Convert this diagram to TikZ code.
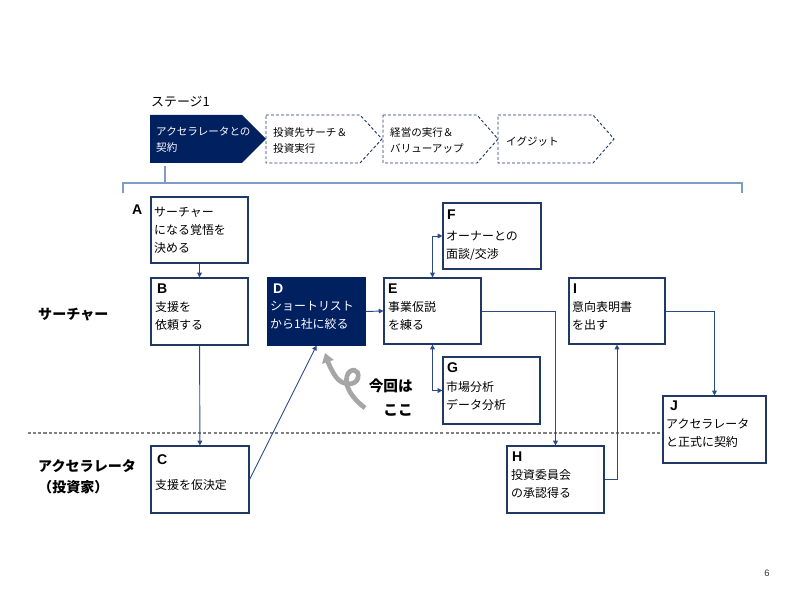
\documentclass[tikz,border=0pt]{standalone}
\usepackage{fontspec}
\setmainfont{Noto Sans CJK JP}
\newfontfamily\latf{Liberation Sans}
\usetikzlibrary{arrows.meta,fit}
\definecolor{navy}{HTML}{002060}
\definecolor{bord}{HTML}{1F3864}
\definecolor{conncol}{HTML}{2A4A85}
\definecolor{brk}{HTML}{7F9CC6}
\definecolor{arrowgray}{HTML}{A6A6A6}
\definecolor{lanegray}{HTML}{808080}
\begin{document}
\begin{tikzpicture}[x=0.03cm,y=-0.03cm,
  box/.style={draw=bord, line width=1pt, fill=white, rectangle, inner sep=0pt},
  darkbox/.style={draw=navy, line width=1pt, fill=navy, rectangle, inner sep=0pt},
  txt/.style={anchor=north west, inner sep=0pt, align=left, font=\fontsize{10.2}{15.3}\selectfont},
  stxt/.style={anchor=north west, inner sep=0pt, align=left, font=\fontsize{9}{13.6}\selectfont},
  letter/.style={anchor=west, inner sep=0pt, font=\latf\bfseries\fontsize{12}{12}\selectfont},
  lane/.style={anchor=north west, inner sep=0pt, align=left, font=\bfseries\fontsize{12}{18}\selectfont},
  conn/.style={draw=conncol, line width=0.8pt},
  arr/.style={-{Triangle[length=4pt,width=4pt]}},
  darr/.style={{Triangle[length=4pt,width=4pt]}-{Triangle[length=4pt,width=4pt]}},
  chev/.style={draw=bord, line width=0.8pt, dash pattern=on 2.5pt off 1.8pt, fill=white},
]
\useasboundingbox (0,0) rectangle (800,600);

% stage header
\node[anchor=west, inner sep=0pt, font=\fontsize{11}{11}\selectfont] (stage) at (151,102) {ステージ1};
\fill[navy] (150,115) -- (242,115) -- (266,139) -- (242,163) -- (150,163) -- cycle;
\path[chev] (266,115) -- (360,115) -- (382,139) -- (360,163) -- (266,163) -- cycle;
\path[chev] (383,115) -- (477,115) -- (498,139) -- (477,163) -- (383,163) -- cycle;
\path[chev] (498,115) -- (593,115) -- (614,139) -- (593,163) -- (498,163) -- cycle;
\node[stxt, text=white] (s1) at (156,127) {アクセラレータとの\\契約};
\node[stxt] (s2) at (273,127) {投資先サーチ＆\\投資実行};
\node[stxt] (s3) at (390,127) {経営の実行＆\\バリューアップ};
\node[stxt, anchor=west] (s4) at (506,141) {イグジット};

% bracket
\coordinate (tickTop) at (165,166);
\coordinate (tickBot) at (165,183);
\coordinate (bL) at (123,193);
\coordinate (bR) at (742,193);
\draw[brk, line width=1.3pt] (bL) -- (123,183) -- (742,183) -- (bR);
\draw[brk, line width=1.3pt] (tickTop) -- (tickBot);

% lane separator
\coordinate (laneL) at (28,433);
\coordinate (laneR) at (663,433);
\draw[lanegray, line width=0.9pt, dash pattern=on 2.6pt off 1.8pt] (laneL) -- (laneR);

% lane labels
\node[lane] (lane1) at (38,308) {サーチャー};
\node[lane] (lane2) at (38,459) {アクセラレータ\\（投資家）};

% boxes
\node[box, fit={(151,197) (248,263)}] (A) {};
\node[box, fit={(151,278) (248,345)}] (B) {};
\node[box, fit={(151,446) (249,513)}] (C) {};
\node[darkbox, fit={(268,278) (365,345)}] (D) {};
\node[box, fit={(384,278) (481,344)}] (E) {};
\node[box, fit={(443,203) (541,269)}] (F) {};
\node[box, fit={(443,357) (540,424)}] (G) {};
\node[box, fit={(507,446) (604,513)}] (H) {};
\node[box, fit={(569,278) (665,344)}] (I) {};
\node[box, fit={(663,396) (766,463)}] (J) {};

% letters
\node[letter] (lA) at (132,210) {A};
\node[letter] (lB) at (157,289) {B};
\node[letter] (lC) at (157,460) {C};
\node[letter, text=white] (lD) at (273,289) {D};
\node[letter] (lE) at (388,289) {E};
\node[letter] (lF) at (447,215) {F};
\node[letter] (lG) at (447,368) {G};
\node[letter] (lH) at (512,457) {H};
\node[letter] (lI) at (573,289) {I};
\node[letter] (lJ) at (670,406) {J};

% texts
\node[txt] (tA) at (154,207) {サーチャー\\になる覚悟を\\決める};
\node[txt] (tB) at (155,301) {支援を\\依頼する};
\node[txt] (tC) at (155,479) {支援を仮決定};
\node[txt, text=white] (tD) at (270,301) {ショートリスト\\から1社に絞る};
\node[txt] (tE) at (388,301) {事業仮説\\を練る};
\node[txt] (tF) at (446,231) {オーナーとの\\面談/交渉};
\node[txt] (tG) at (446,381) {市場分析\\データ分析};
\node[txt] (tH) at (511,469) {投資委員会\\の承認得る};
\node[txt] (tI) at (572,301) {意向表明書\\を出す};
\node[txt] (tJ) at (666,419) {アクセラレータ\\と正式に契約};

% connectors
\draw[conn, arr] (A) -- (B);
\draw[conn, arr] (B) -- (C);
\draw[conn, arr] (C.east) -- (D.south);
\draw[conn, arr] (D.east) -- (E.west);
\draw[conn, darr] (E.north) |- (F.west);
\draw[conn, darr] (E.south) |- (G.west);
\draw[conn, arr] (E.east) -| (H.north);
\draw[conn, arr] (H.east) -| (I.south);
\draw[conn, arr] (I.east) -| (J.north);

% gray curly arrow
\coordinate (gTail) at (365,408);
\coordinate (gTip) at (325,353);
\draw[arrowgray, line width=4pt, -{Triangle[length=8pt,width=10pt]}]
  (gTail) .. controls (352,398) and (344,386) .. (347,376)
  .. controls (350,367) and (360,369) .. (358,378)
  .. controls (356,386) and (342,386) .. (336,377)
  .. controls (331,370) and (328,362) .. (gTip);
\node[anchor=north east, inner sep=0pt, align=right, font=\bfseries\fontsize{12.5}{20}\selectfont] (here) at (413,379) {今回は\\ここ};

% page number
\node[inner sep=0pt, font=\latf\fontsize{8}{8}\selectfont, text=black!80] (pg) at (767,573) {6};
\end{tikzpicture}
\end{document}
